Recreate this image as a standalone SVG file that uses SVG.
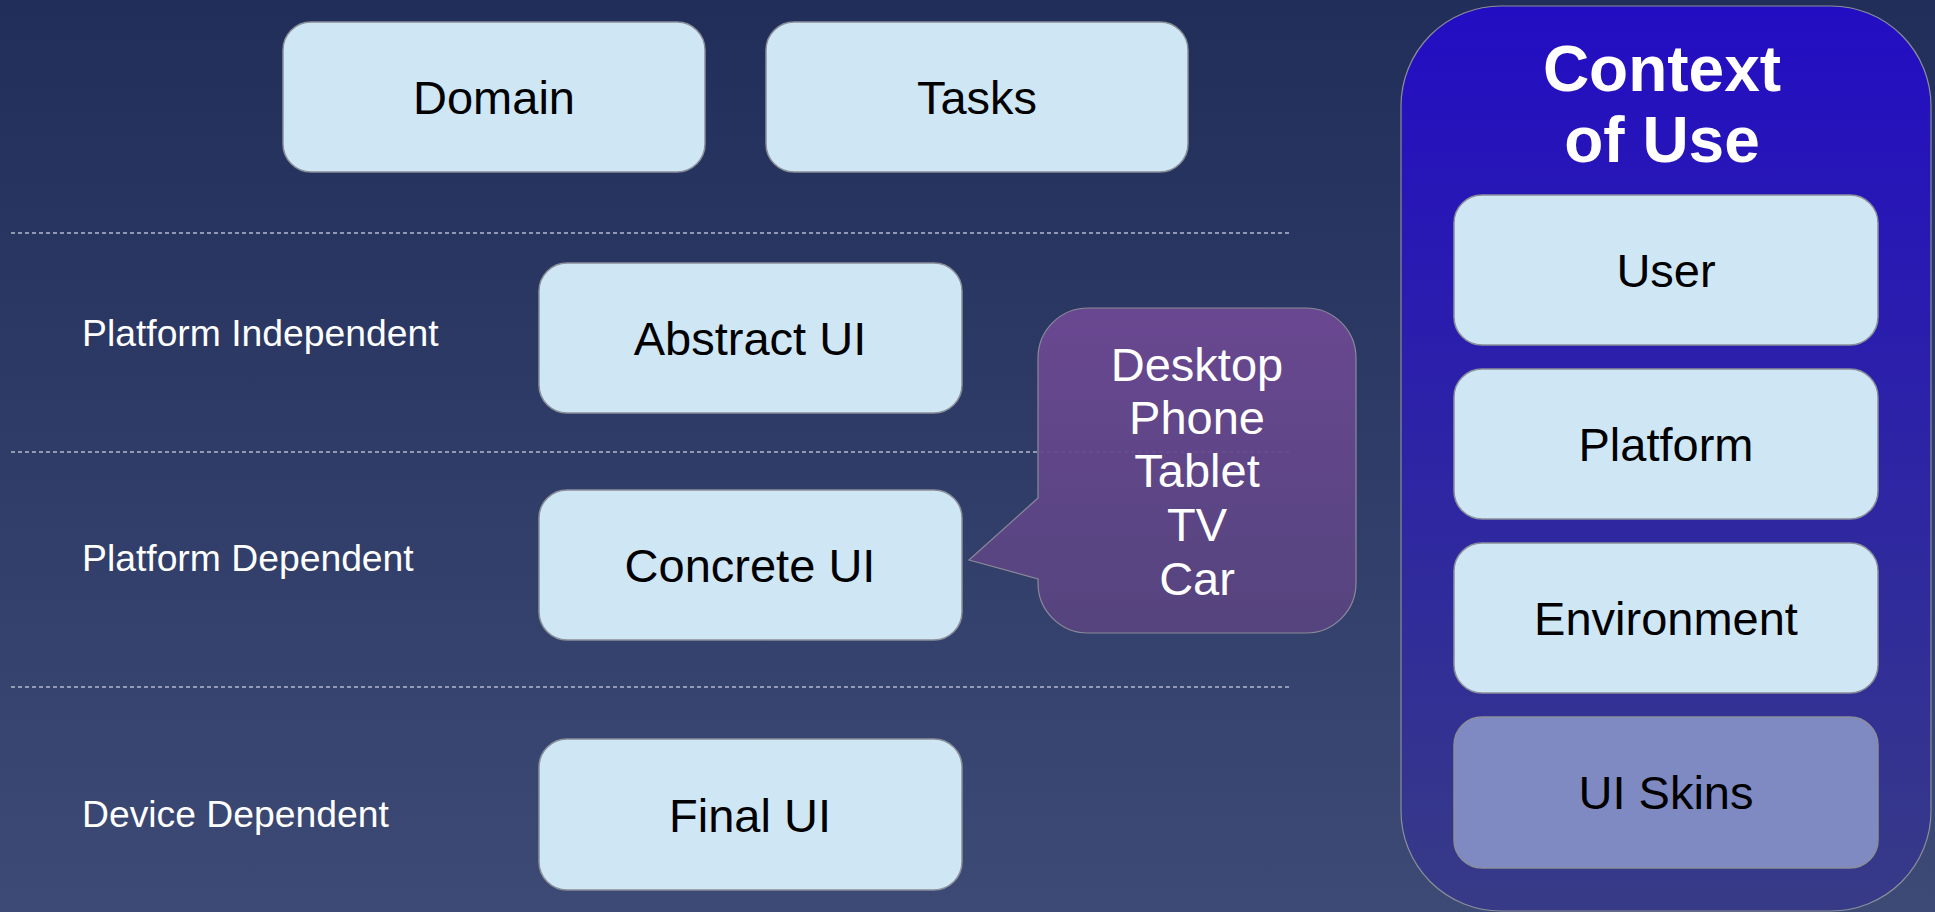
<svg xmlns="http://www.w3.org/2000/svg" width="1935" height="912" viewBox="0 0 1935 912">
<defs>
<linearGradient id="bg" x1="0" y1="0" x2="0" y2="1">
<stop offset="0" stop-color="#212e5a"/>
<stop offset="1" stop-color="#3c4a75"/>
</linearGradient>
<linearGradient id="ctx" x1="0" y1="0" x2="0" y2="1">
<stop offset="0" stop-color="#230dc3"/>
<stop offset="1" stop-color="#373b86"/>
</linearGradient>
<linearGradient id="call" x1="0" y1="0" x2="0" y2="1">
<stop offset="0" stop-color="#6e4994"/>
<stop offset="1" stop-color="#57447f"/>
</linearGradient>
</defs>
<style>
.box{fill:#cfe6f4;stroke:#8a8f99;stroke-width:1.5}
.skin{fill:#7e8ac1;stroke:#8a8f99;stroke-width:1.5}
.bt{font-family:"Liberation Sans",Arial,sans-serif;font-size:47px;fill:#000;text-anchor:middle}
.lbl{font-family:"Liberation Sans",Arial,sans-serif;font-size:37.3px;fill:#fff}
.ct{font-family:"Liberation Sans",Arial,sans-serif;font-size:47px;fill:#fff;text-anchor:middle}
.title{font-family:"Liberation Sans",Arial,sans-serif;font-size:64px;font-weight:bold;fill:#fff;text-anchor:middle}
.sep{stroke:#b4b9cc;stroke-width:1.5;stroke-dasharray:4 3;fill:none}
</style>
<rect x="0" y="0" width="1935" height="912" fill="url(#bg)"/>

<g id="separators">
<line class="sep" x1="11" y1="233" x2="1292" y2="233"/>
<line class="sep" x1="11" y1="452" x2="1292" y2="452"/>
<line class="sep" x1="11" y1="687" x2="1292" y2="687"/>
</g>

<g id="labels">
<text class="lbl" x="82" y="346">Platform Independent</text>
<text class="lbl" x="82" y="571">Platform Dependent</text>
<text class="lbl" x="82" y="827">Device Dependent</text>
</g>

<g id="domain">
<rect class="box" x="283" y="22" width="422" height="150" rx="28"/>
<text class="bt" x="494" y="114">Domain</text>
</g>
<g id="tasks">
<rect class="box" x="766" y="22" width="422" height="150" rx="28"/>
<text class="bt" x="977" y="114">Tasks</text>
</g>
<g id="abstract-ui">
<rect class="box" x="539" y="263" width="423" height="150" rx="28"/>
<text class="bt" x="750" y="355">Abstract UI</text>
</g>
<g id="concrete-ui">
<rect class="box" x="539" y="490" width="423" height="150" rx="28"/>
<text class="bt" x="750" y="582">Concrete UI</text>
</g>
<g id="final-ui">
<rect class="box" x="539" y="739" width="423" height="151" rx="28"/>
<text class="bt" x="750" y="832">Final UI</text>
</g>

<g id="platforms-callout">
<path d="M1088,308 H1306 A50,50 0 0 1 1356,358 V583 A50,50 0 0 1 1306,633 H1088 A50,50 0 0 1 1038,583 V579 L969,560 L1038,498 V358 A50,50 0 0 1 1088,308 Z" fill="url(#call)" fill-opacity="0.93" stroke="#8a8a99" stroke-width="1.2"/>
<text class="ct" x="1197" y="381">Desktop</text>
<text class="ct" x="1197" y="434">Phone</text>
<text class="ct" x="1197" y="487">Tablet</text>
<text class="ct" x="1197" y="541">TV</text>
<text class="ct" x="1197" y="595">Car</text>
</g>

<g id="context-of-use">
<rect x="1401" y="6" width="530" height="905" rx="100" fill="url(#ctx)" stroke="#8a8f99" stroke-width="1.2"/>
<text class="title" x="1662" y="91">Context</text>
<text class="title" x="1662" y="162">of Use</text>
</g>
<g id="user">
<rect class="box" x="1454" y="195" width="424" height="150" rx="28"/>
<text class="bt" x="1666" y="287">User</text>
</g>
<g id="platform">
<rect class="box" x="1454" y="369" width="424" height="150" rx="28"/>
<text class="bt" x="1666" y="461">Platform</text>
</g>
<g id="environment">
<rect class="box" x="1454" y="543" width="424" height="150" rx="28"/>
<text class="bt" x="1666" y="635">Environment</text>
</g>
<g id="ui-skins">
<rect class="skin" x="1454" y="717" width="424" height="151" rx="28"/>
<text class="bt" x="1666" y="809">UI Skins</text>
</g>
</svg>
